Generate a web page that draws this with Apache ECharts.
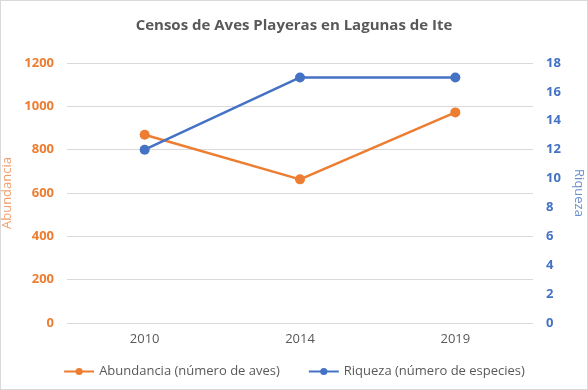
<!DOCTYPE html>
<html><head><meta charset="utf-8">
<script src="https://cdn.jsdelivr.net/npm/echarts@6/dist/echarts.min.js"></script>
<style>html,body{margin:0;padding:0;background:#fff}#c{width:586px;height:388px;border:1px solid #D9D9D9}</style>
</head><body><div id="c"></div>
<script>
const years = ['2010', '2014', '2019'];
const abundancia = [869, 663, 972];
const riqueza = [12, 17, 17];
const leftTicks = [0, 200, 400, 600, 800, 1000, 1200];
const rightTicks = [0, 2, 4, 6, 8, 10, 12, 14, 16, 18];

const font = 'Open Sans';
const chart = echarts.init(document.getElementById('c'));
chart.setOption({
  animation: false,
  textStyle: {fontFamily: font},
  title: {text: 'Censos de Aves Playeras en Lagunas de Ite', left: 'center', top: 12,
    textStyle: {fontFamily: font, fontSize: 15, fontWeight: 'bold', color: '#595959'}},
  legend: {bottom: 6, itemGap: 28, itemWidth: 30, itemHeight: 9,
    textStyle: {fontFamily: font, fontSize: 13, color: '#595959'},
    data: ['Abundancia (número de aves)', 'Riqueza (número de especies)']},
  grid: {left: 66, right: 54, top: 62, bottom: 66, outerBoundsMode: 'none', containLabel: false},
  xAxis: {type: 'category', data: years, boundaryGap: true,
    axisLine: {show: false}, axisTick: {show: false},
    axisLabel: {color: '#595959', fontSize: 13, margin: 10}},
  yAxis: [
    {type: 'value', min: leftTicks[0], max: leftTicks[leftTicks.length-1], interval: 200,
     name: 'Abundancia', nameLocation: 'middle', nameGap: 44,
     nameTextStyle: {color: '#F0A070', fontSize: 13},
     axisLabel: {color: '#ED7D31', fontSize: 13, fontWeight: 'bold', margin: 13, formatter: v => String(v)},
     splitLine: {lineStyle: {color: '#D9D9D9'}}, axisLine: {show: false}, axisTick: {show: false}},
    {type: 'value', min: rightTicks[0], max: rightTicks[rightTicks.length-1], interval: 2,
     name: 'Riqueza', nameLocation: 'middle', nameGap: 34, nameRotate: -90,
     nameTextStyle: {color: '#6A8FD0', fontSize: 13},
     axisLabel: {color: '#4472C4', fontSize: 13, fontWeight: 'bold', margin: 13},
     splitLine: {show: false}, axisLine: {show: false}, axisTick: {show: false}}
  ],
  series: [
    {name: 'Abundancia (número de aves)', type: 'line', yAxisIndex: 0, data: abundancia,
     symbol: 'circle', symbolSize: 10, lineStyle: {width: 2.5, color: '#ED7D31'},
     itemStyle: {color: '#ED7D31'}},
    {name: 'Riqueza (número de especies)', type: 'line', yAxisIndex: 1, data: riqueza,
     symbol: 'circle', symbolSize: 10, lineStyle: {width: 2.5, color: '#4472C4'},
     itemStyle: {color: '#4472C4'}}
  ]
});
</script></body></html>
